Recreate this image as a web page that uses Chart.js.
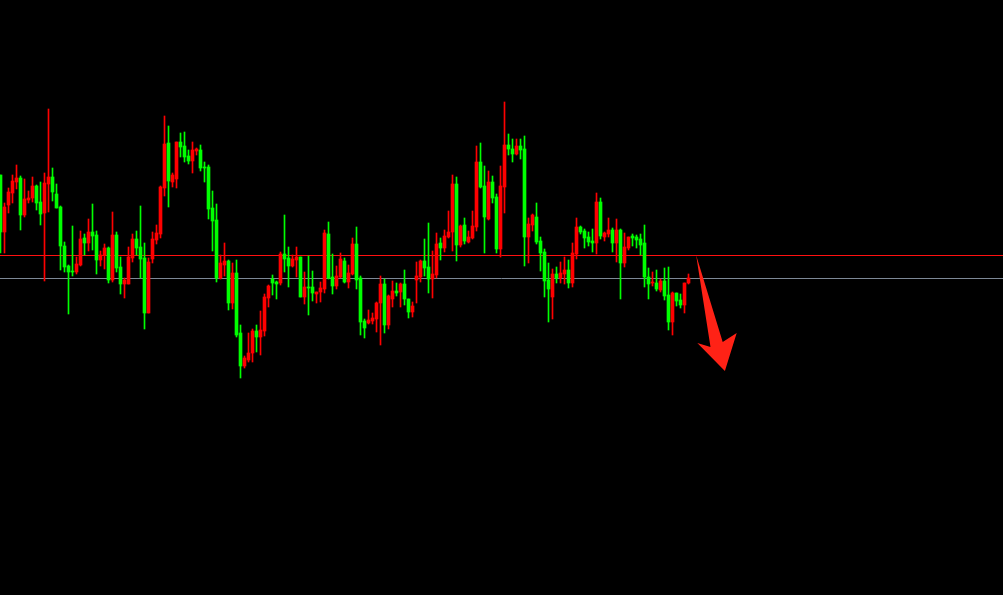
<!DOCTYPE html>
<html>
<head>
<meta charset="utf-8">
<title>Candles</title>
<script src="https://cdn.jsdelivr.net/npm/chart.js@4.4.1/dist/chart.umd.min.js"></script>
<style>
    html, body { margin: 0; padding: 0; background: #000; }
    #wrap { width: 1003px; height: 595px; position: relative; }
</style>
</head>
<body>
<div id="wrap"><canvas id="candleChart"></canvas></div>
<script>
// OHLC per bar (arbitrary price units)
const opens = [425,368,395,407,418,422,385,400,402,414,398,387,416,423,406,393,354,334,329,328,
    335,362,357,368,365,340,345,352,320,365,333,316,316,342,361,353,342,287,341,360,
    366,412,457,418,421,458,454,444,439,449,450,433,433,392,380,322,335,339,297,327,
    267,234,240,247,269,263,269,302,321,318,317,346,342,334,340,343,303,313,313,306,
    308,311,366,323,314,323,339,318,326,356,322,279,277,279,281,297,316,275,301,309,
    308,316,301,288,320,323,339,333,321,325,357,352,363,368,416,355,375,358,362,373,
    438,414,381,418,403,351,413,455,451,446,454,451,363,375,383,359,348,320,303,326,
    322,326,330,317,346,373,369,363,359,357,398,363,366,370,357,370,337,352,364,363,
    361,357,323,317,317,310,319,305,278,307,300,295,317];
const highs = [425,397,412,425,435,424,421,409,423,415,418,427,491,432,416,394,358,335,374,343,
    369,366,381,396,369,349,356,353,388,368,343,322,353,366,369,394,357,342,368,375,
    414,484,474,427,458,467,468,450,458,452,455,438,435,409,396,345,357,340,337,340,
    275,244,267,271,275,289,306,315,325,319,348,385,353,345,353,343,328,344,329,308,
    318,370,378,346,334,347,342,335,362,373,324,281,290,287,298,324,321,305,319,317,
    317,330,301,298,338,340,361,377,349,367,362,370,389,425,423,375,382,369,389,454,
    457,434,429,424,406,434,498,466,461,461,461,464,382,386,397,363,351,337,331,333,
    338,343,340,357,382,374,371,368,371,407,402,368,382,372,381,371,367,363,366,365,
    366,375,332,328,330,321,332,333,308,307,306,317,326];
const lows = [347,347,387,397,411,370,383,397,398,390,375,319,388,399,392,330,328,286,324,326,
    334,345,349,350,326,334,331,317,318,328,306,302,316,338,345,322,271,287,337,356,
    362,404,393,413,412,443,438,436,427,445,429,418,381,349,318,321,324,290,291,263,
    222,232,238,238,248,245,264,293,305,301,315,328,313,333,323,303,296,285,299,297,
    298,307,321,306,311,322,317,312,325,311,265,262,276,276,268,255,267,271,293,304,
    293,295,282,283,297,318,324,307,302,322,340,348,362,349,339,353,356,357,361,369,
    412,347,380,397,347,343,387,445,438,445,441,334,337,369,356,329,303,278,281,317,
    317,316,312,313,341,366,352,354,348,346,361,359,363,348,338,301,333,350,354,352,
    345,313,301,314,309,308,300,270,265,294,292,287,316];
const closes = [368,393,408,419,422,385,401,402,414,397,386,417,423,408,392,354,333,328,328,336,
    361,357,368,364,340,345,352,320,365,332,316,320,343,361,352,341,287,338,361,367,
    413,456,419,425,458,453,443,439,450,451,432,432,391,379,322,337,339,297,327,265,
    234,242,247,269,263,270,303,314,317,316,346,341,334,341,343,303,313,312,307,308,
    312,367,322,314,324,341,318,327,356,320,278,272,280,282,297,316,275,304,309,307,
    316,301,288,294,324,339,332,321,326,356,352,364,368,416,355,374,359,363,374,438,
    413,383,418,402,351,414,455,451,446,454,450,363,376,385,358,347,319,311,326,322,
    327,330,317,347,373,368,362,358,357,398,364,367,370,357,370,337,353,363,362,360,
    355,323,316,318,311,319,304,278,307,299,295,317,322];

// horizontal levels
const levelPrices = [345, 322];
const levelColors = ['#ff1010', '#7d8896'];

// arrow outline as [bar index, price]
const arrowIdx   = [173.9, 180.55, 184.05, 181.1, 174.2, 177.5];
const arrowPrice = [345, 258, 267, 229, 257, 253];

const UP = '#ff0000';
const DOWN = '#00ff00';

const barColors = opens.map((o, i) => closes[i] >= o ? UP : DOWN);
const wickData = opens.map((o, i) => ({ x: i, y: [lows[i], highs[i]] }));
const bodyData = opens.map((o, i) => ({ x: i, y: [o, closes[i]] }));

const overlays = {
    id: 'overlays',
    beforeDatasetsDraw(chart) {
        const { ctx, chartArea, scales } = chart;
        ctx.save();
        ctx.lineWidth = 1;
        levelPrices.forEach((p, k) => {
            const y = Math.round(scales.y.getPixelForValue(p)) + 0.5;
            ctx.strokeStyle = levelColors[k];
            ctx.beginPath();
            ctx.moveTo(chartArea.left, y);
            ctx.lineTo(chartArea.right, y);
            ctx.stroke();
        });
        ctx.restore();
    },
    afterDatasetsDraw(chart) {
        const { ctx, scales } = chart;
        ctx.save();
        ctx.fillStyle = '#ff2216';
        ctx.beginPath();
        arrowIdx.forEach((ix, k) => {
            const px = scales.x.getPixelForValue(ix);
            const py = scales.y.getPixelForValue(arrowPrice[k]);
            if (k === 0) ctx.moveTo(px, py); else ctx.lineTo(px, py);
        });
        ctx.closePath();
        ctx.fill();
        ctx.restore();
    }
};

const ctx = document.getElementById('candleChart').getContext('2d');
new Chart(ctx, {
    type: 'bar',
    data: {
        datasets: [{
            label: 'wick',
            data: wickData,
            backgroundColor: barColors,
            barThickness: 1,
            grouped: false,
            order: 2
        }, {
            label: 'body',
            data: bodyData,
            backgroundColor: barColors,
            barThickness: 3,
            minBarLength: 1,
            grouped: false,
            order: 1
        }]
    },
    options: {
        responsive: true,
        maintainAspectRatio: false,
        animation: false,
        layout: { padding: 0 },
        plugins: { legend: { display: false }, tooltip: { enabled: false } },
        scales: {
            x: { type: 'linear', min: -0.125, max: 250.625, offset: false, display: false },
            y: { type: 'linear', min: 5, max: 600, display: false }
        }
    },
    plugins: [overlays]
});
</script>
</body>
</html>
